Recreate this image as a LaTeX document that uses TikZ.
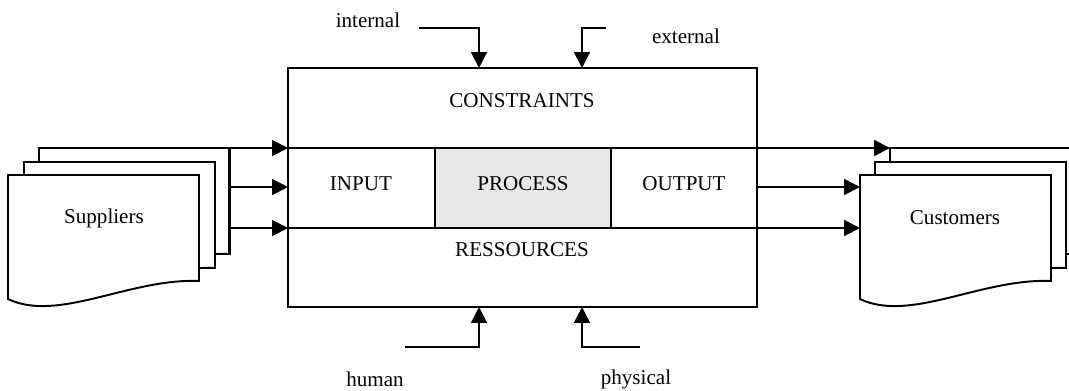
\documentclass[tikz,border=0pt]{standalone}
\usepackage{fontspec}
\setmainfont{Liberation Serif}
\usetikzlibrary{arrows.meta}

% one sheet of a document stack, top-left corner at (#1,#2)
\newcommand{\docsheet}[2]{%
  \draw[docC, shift={(#1,#2)}] (0,124) -- (0,0) -- (191,0) -- (191,106)
    .. controls (122,103) and (50,148) .. cycle;}

\begin{document}
\begin{tikzpicture}[
    x=0.02cm, y=-0.02cm,
    line join=miter,
    frame/.style={draw=black, line width=1.1pt},
    docC/.style={fill=white, draw=black, line width=1.1pt},
    flow/.style={draw=black, line width=1.1pt, -{Triangle[length=9pt,width=9pt]}},
    lbl/.style={font=\fontsize{12}{14}\selectfont, inner sep=0pt},
  ]
  \clip (0,0) rectangle (1069,390);

  % ---------- document stacks ----------
  \docsheet{39}{148}\docsheet{24}{162}\docsheet{8}{175}
  \docsheet{890}{148}\docsheet{875}{162}\docsheet{860}{175}
  \node[lbl] (sup) at (104,218) {Suppliers};
  \node[lbl] (cus) at (955,218) {Customers};

  % ---------- main box ----------
  \fill[gray!18] (435,148) rectangle (611,228);
  \draw[frame] (288,68) rectangle (757,307);
  \draw[frame] (288,148) -- (757,148);
  \draw[frame] (288,228) -- (757,228);
  \draw[frame] (435,148) -- (435,228);
  \draw[frame] (611,148) -- (611,228);
  \node[lbl] (con) at (522,101) {CONSTRAINTS};
  \node[lbl] (inp) at (361,184) {INPUT};
  \node[lbl] (pro) at (523,184) {PROCESS};
  \node[lbl] (out) at (684,184) {OUTPUT};
  \node[lbl] (res) at (522,250) {RESSOURCES};

  % ---------- flows in / out ----------
  \coordinate (sA) at (229,148); \coordinate (sB) at (229,187); \coordinate (sC) at (229,228);
  \coordinate (bA) at (288,148); \coordinate (bB) at (288,187); \coordinate (bC) at (288,228);
  \coordinate (oA) at (757,148); \coordinate (oB) at (757,187); \coordinate (oC) at (757,228);
  \coordinate (cA) at (890,148); \coordinate (cB) at (860,187); \coordinate (cC) at (860,228);
  \draw[frame] (sA) -- (229,254);
  \foreach \a/\b in {sA/bA,sB/bB,sC/bC,oA/cA,oB/cB,oC/cC}
    \draw[flow] (\a) -- (\b);

  % ---------- constraints and resources ----------
  \coordinate (tA) at (479,68); \coordinate (tB) at (582,68);
  \coordinate (uA) at (479,307); \coordinate (uB) at (582,307);
  \draw[flow] (419,28) -| (tA);
  \draw[flow] (606,28) -| (tB);
  \draw[flow] (405,347) -| (uA);
  \draw[flow] (640,347) -| (uB);
  \node[lbl] (int) at (368,20) {internal};
  \node[lbl] (ext) at (686,36) {external};
  \node[lbl] (hum) at (375,379) {human};
  \node[lbl] (phy) at (636,379) {physical};
\end{tikzpicture}
\end{document}
